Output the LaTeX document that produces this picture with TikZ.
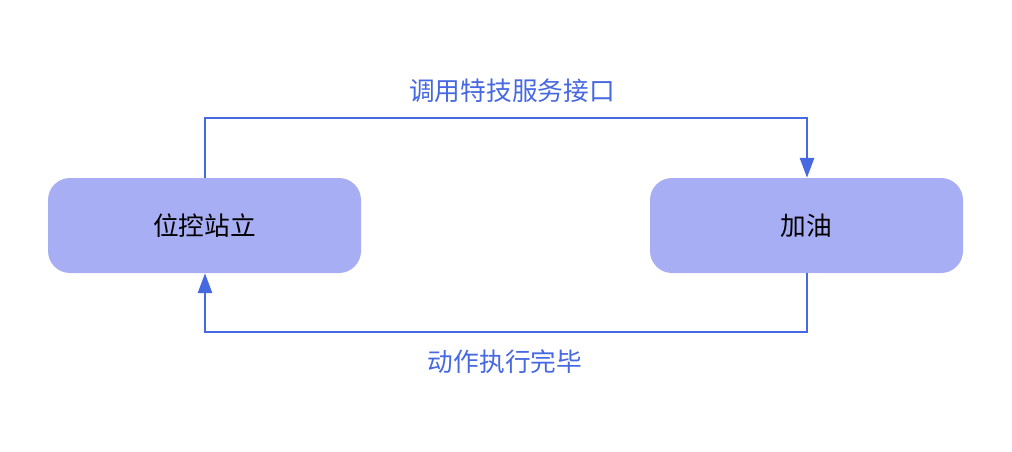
\documentclass[tikz,border=0pt]{standalone}
\usepackage{fontspec}
\newfontfamily\cjk{Noto Sans CJK SC}
\usetikzlibrary{arrows.meta}
\definecolor{boxfill}{RGB}{168,174,243}
\definecolor{linec}{RGB}{70,104,224}
\tikzset{
  state/.style={draw=none,fill=boxfill,rounded corners=22pt,minimum width=313pt,minimum height=95pt,font=\cjk\fontsize{25.7pt}{30pt}\selectfont,text=black},
  conn/.style={draw=linec,line width=2.8pt,-{Triangle[length=20pt,width=14pt]}},
  lbl/.style={font=\cjk\fontsize{25.7pt}{30pt}\selectfont,text=linec}
}
\begin{document}
\begin{tikzpicture}[x=1pt,y=-1pt]
\useasboundingbox (0,0) rectangle (1012,451);
\node[state] (a) at (204.5,225.5) {位控站立};
\node[state] (b) at (806.5,225.5) {加油};
\coordinate (t1) at (205,118);
\coordinate (t2) at (807,118);
\coordinate (b1) at (807,332);
\coordinate (b2) at (205,332);
\draw[conn] (a.north -| t1) -- (t1) -- (t2) -- (b.north -| t2);
\draw[conn] (b.south -| b1) -- (b1) -- (b2) -- (a.south -| b2);
\node[lbl] (l1) at (512,91) {调用特技服务接口};
\node[lbl] (l2) at (505,362) {动作执行完毕};
\end{tikzpicture}
\end{document}
